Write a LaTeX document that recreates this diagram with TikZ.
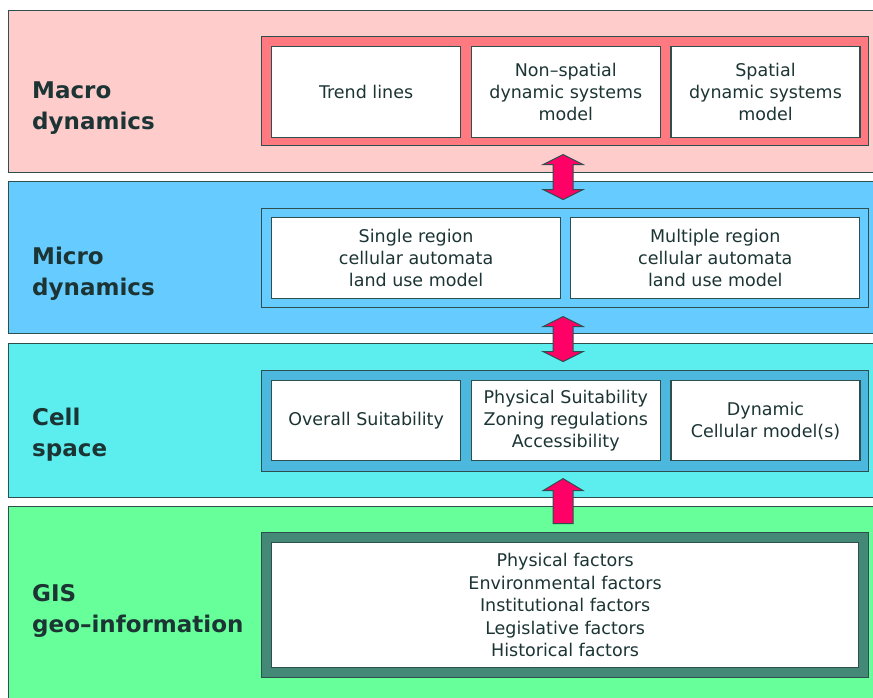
\documentclass[tikz,border=0pt]{standalone}
\usepackage{fontspec}
\setmainfont{DejaVu Sans}
\usepackage{tikz}
\usetikzlibrary{positioning,calc}
\definecolor{edgegray}{RGB}{47,79,79}
\definecolor{inkdark}{RGB}{28,52,52}
\definecolor{macropink}{RGB}{255,204,204}
\definecolor{macrorose}{RGB}{255,122,128}
\definecolor{microblue}{RGB}{102,204,255}
\definecolor{cellcyan}{RGB}{92,238,238}
\definecolor{cellblue}{RGB}{77,184,221}
\definecolor{gisgreen}{RGB}{102,255,153}
\definecolor{gisteal}{RGB}{68,136,119}
\definecolor{arrowred}{RGB}{255,0,102}

\begin{document}
\begin{tikzpicture}[x=1pt,y=-1pt,
  band/.style={draw=edgegray,line width=1.2pt,rectangle,inner sep=0pt,anchor=north west,minimum width=872pt},
  frame/.style={draw=edgegray,line width=1.2pt,rectangle,inner sep=0pt,anchor=north west,minimum width=607pt},
  box/.style={draw=edgegray,line width=1.2pt,fill=white,rectangle,inner sep=0pt,align=center,text=inkdark,font=\fontsize{17.5}{22}\selectfont},
  layer/.style={anchor=north west,inner sep=0pt,align=left,text=inkdark,font=\fontsize{23}{31}\selectfont\bfseries},
  arrowbody/.style={draw=edgegray,fill=arrowred,line width=1pt,line join=miter},
  updown/.pic={\draw[arrowbody] (0,-22.5) -- (20,-12.5) -- (10,-12.5) -- (10,12.5) -- (20,12.5) -- (0,22.5) -- (-20,12.5) -- (-10,12.5) -- (-10,-12.5) -- (-20,-12.5) -- cycle;},
  upward/.pic={\draw[arrowbody] (0,-22.5) -- (20,-10.5) -- (10,-10.5) -- (10,22.5) -- (-10,22.5) -- (-10,-10.5) -- (-20,-10.5) -- cycle;}]
\useasboundingbox (0,0) rectangle (873,698);
\clip (0,0) rectangle (873,698);

% layers
\node[band,fill=macropink,minimum height=162pt] (macro) at (8,10) {};
\node[band,fill=microblue,minimum height=152pt] (micro) at (8,181) {};
\node[band,fill=cellcyan,minimum height=154pt] (cell) at (8,343) {};
\node[band,fill=gisgreen,minimum height=199pt] (gis) at (8,506) {};

\node[layer] (macrolabel) at (32,82) {Macro\\dynamics};
\node[layer] (microlabel) at (32,247) {Micro\\dynamics};
\node[layer] (celllabel) at (32,408) {Cell\\space};
\node[layer] (gislabel) at (32,584) {GIS\\geo–information};

% frames
\node[frame,fill=macrorose,minimum height=109pt] (macroframe) at (261,36) {};
\node[frame,fill=microblue,minimum height=99pt] (microframe) at (261,208) {};
\node[frame,fill=cellblue,minimum height=101pt] (cellframe) at (261,370) {};
\node[frame,fill=gisteal,minimum height=145pt] (gisframe) at (261,532) {};

% macro dynamics
\node[box,minimum width=189pt,minimum height=91pt,anchor=north west] (trend) at ($(macroframe.north west)+(10,10)$) {Trend lines};
\node[box,minimum width=189pt,minimum height=91pt,right=9.5pt of trend] (nonspatial) {Non–spatial\\dynamic systems\\model};
\node[box,minimum width=189pt,minimum height=91pt,right=9.5pt of nonspatial] (spatial) {Spatial\\dynamic systems\\model};

% micro dynamics
\node[box,minimum width=289pt,minimum height=81pt,anchor=north west] (single) at ($(microframe.north west)+(10,9)$) {Single region\\cellular automata\\land use model};
\node[box,minimum width=289pt,minimum height=81pt,right=9pt of single] (multiple) {Multiple region\\cellular automata\\land use model};

% cell space
\node[box,minimum width=189pt,minimum height=80pt,anchor=north west] (overall) at ($(cellframe.north west)+(10,10)$) {Overall Suitability};
\node[box,minimum width=189pt,minimum height=80pt,right=9.5pt of overall] (suitability) {Physical Suitability\\Zoning regulations\\Accessibility};
\node[box,minimum width=189pt,minimum height=80pt,right=9.5pt of suitability] (cellular) {Dynamic\\Cellular model(s)};

% GIS
\node[box,minimum width=587pt,minimum height=125pt,anchor=north west,font=\fontsize{17.5}{22.5}\selectfont] (factors) at ($(gisframe.north west)+(10,10)$) {Physical factors\\Environmental factors\\Institutional factors\\Legislative factors\\Historical factors};

% links between layers
\pic at ($(macroframe.south)!0.5!(microframe.north)+(-2,0)$) {updown};
\pic at ($(microframe.south)!0.5!(cellframe.north)+(-2,0)$) {updown};
\pic at ($(cellframe.south)!0.5!(gisframe.north)+(-2,-1)$) {upward};
\end{tikzpicture}
\end{document}
